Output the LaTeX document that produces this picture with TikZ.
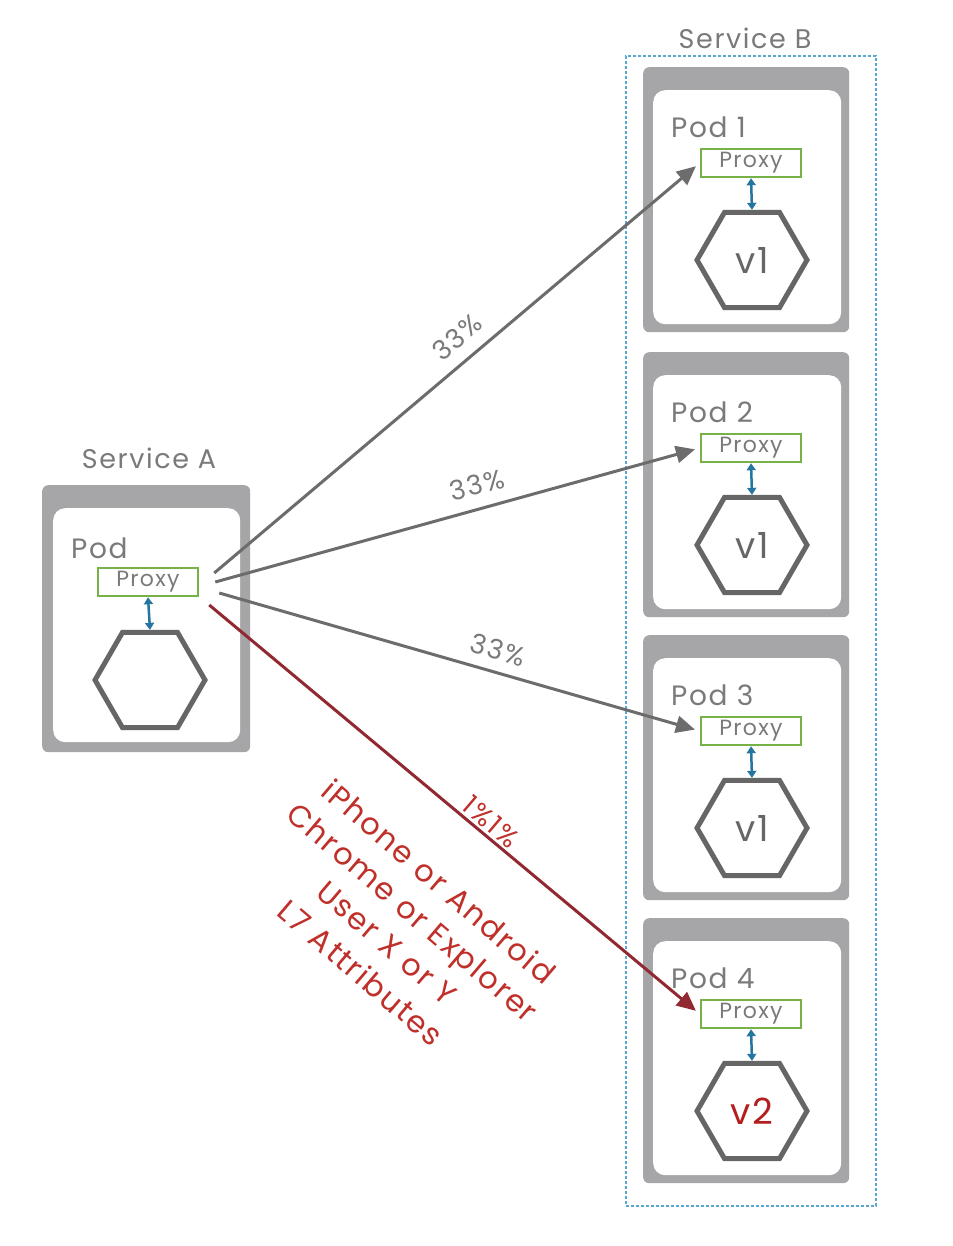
\documentclass[tikz,border=0pt]{standalone}
\usepackage{fontspec}
\setmainfont{Poppins}[LetterSpace=6]
\usetikzlibrary{shapes.geometric,arrows.meta}
\definecolor{podgray}{RGB}{166,166,168}
\definecolor{hexgray}{RGB}{102,102,102}
\definecolor{textgray}{RGB}{122,122,122}
\definecolor{proxygreen}{RGB}{118,178,72}
\definecolor{linkblue}{RGB}{36,118,160}
\definecolor{dashblue}{RGB}{92,166,210}
\definecolor{arrowgray}{RGB}{108,108,108}
\definecolor{arrowred}{RGB}{146,40,50}
\definecolor{redtext}{RGB}{192,48,42}
\definecolor{vred}{RGB}{180,30,30}
\newcommand\svcfont{\fontsize{27}{32}\selectfont}
\newcommand\podfont{\fontsize{28}{32}\selectfont}
\newcommand\proxyfont{\fontsize{22}{26}\selectfont}
\newcommand\hexfont{\fontsize{36}{42}\selectfont}
\newcommand\pctfont{\fontsize{27}{32}\selectfont}
\newcommand\redfont{\fontsize{30.5}{40}\selectfont}
\tikzset{
  podouter/.style={fill=podgray, rounded corners=6pt, inner sep=0pt, anchor=north west, minimum width=206pt, minimum height=265pt},
  podinner/.style={fill=white, rounded corners=12pt, inner sep=0pt, anchor=north west, minimum width=188pt, minimum height=234pt},
  proxybox/.style={draw=proxygreen, line width=2.5pt, fill=white, minimum width=100pt, minimum height=28pt, inner sep=0pt, text=textgray, font=\proxyfont},
  hexnode/.style={regular polygon, regular polygon sides=6, draw=hexgray, line width=5pt, minimum size=110pt, inner sep=0pt, font=\hexfont, text=hexgray},
  podlabel/.style={anchor=west, text=textgray, font=\podfont, inner sep=0pt},
  svclabel/.style={text=textgray, font=\svcfont, inner sep=0pt},
  flow/.style={draw=arrowgray, line width=3pt, -{Triangle[length=19pt,width=17pt]}, shorten >=5pt},
  redflow/.style={flow, draw=arrowred},
  link/.style={draw=linkblue, line width=2.5pt, {Triangle[length=7pt,width=9pt]}-{Triangle[length=7pt,width=9pt]}},
  pct/.style={text=textgray, font=\pctfont, inner sep=0pt},
  svcbox/.style={draw=dashblue, line width=1.6pt, dash pattern=on 3pt off 2pt, inner sep=0pt, anchor=north west, minimum width=250pt, minimum height=1150pt},
}
\begin{document}
\begin{tikzpicture}[x=1pt,y=-1pt]
\useasboundingbox (0,0) rectangle (952,1246);
\fill[white] (0,0) rectangle (952,1246);

% Service B
\node[svcbox] (svcB) at (625,55) {};
\node[svclabel] (svcBlabel) at (745,38) {Service B};

\foreach \k/\T/\v/\c in {1/67/v1/hexgray, 2/352/v1/hexgray, 3/635/v1/hexgray, 4/918/v2/vred}{
  \node[podouter] (pod\k) at (643,\T) {};
  \node[podinner] (podin\k) at (653,\T+23) {};
  \node[podlabel] (podlabel\k) at (671,\T+60) {Pod \k};
  \node[proxybox] (proxy\k) at (751,\T+96) {Proxy};
  \node[hexnode, text=\c] (hex\k) at (752,\T+193) {\v};
  \draw[link] (proxy\k.south) -- (hex\k.north);
}

% Service A
\node[svclabel] (svcAlabel) at (149,458) {Service A};
\node[podouter, minimum width=208pt, minimum height=267pt] (podA) at (42,485) {};
\node[podinner, minimum width=187pt, minimum height=234pt] (podinA) at (53,508) {};
\node[podlabel] (podlabelA) at (71,548) {Pod};
\node[proxybox] (proxyA) at (148,582) {Proxy};
\node[hexnode] (hexA) at (150,680) {};
\draw[link] (proxyA.south) -- (hexA.north);

% start points
\coordinate (o1) at ([shift={(15,-9)}]proxyA.east);
\coordinate (o2) at ([shift={(16,0)}]proxyA.east);
\coordinate (o3) at ([shift={(20,11)}]proxyA.east);
\coordinate (o4) at ([shift={(10,23)}]proxyA.east);

\draw[flow] (o1) -- (proxy1.west);
\draw[flow] (o2) -- (proxy2.west);
\draw[flow] (o3) -- (proxy3.west);
\draw[redflow] (o4) -- (proxy4.west);

\node[pct, rotate=40] (p1) at (457,337) {33\%};
\node[pct, rotate=14] (p2) at (477,485) {33\%};
\node[pct, rotate=-16] (p3) at (498,650) {33\%};
\node[pct, rotate=-40.5, text=redtext] (p4) at (491,822) {1\%1\%};

\node[rotate=-40.5, align=center, text=redtext, font=\redfont, inner sep=0pt] (attrs) at (400,927)
  {iPhone or Android\\Chrome or Explorer\\User X or Y\\L7 Attributes};
\end{tikzpicture}
\end{document}
